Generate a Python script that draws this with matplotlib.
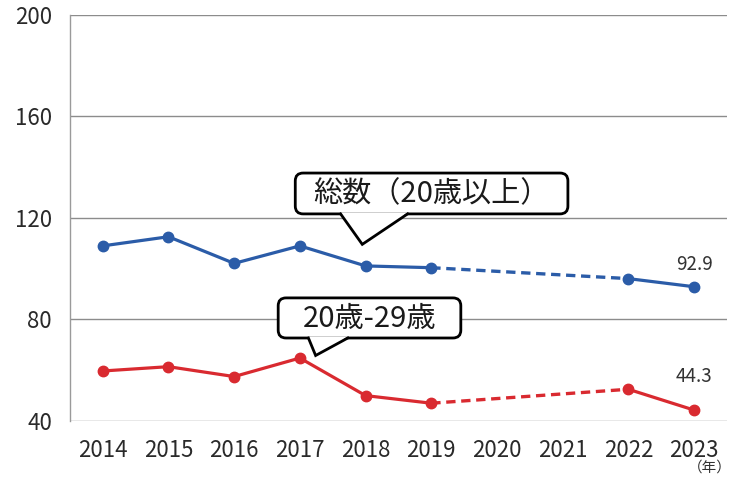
import numpy as np
import matplotlib
matplotlib.use("Agg")
import matplotlib.pyplot as plt
from matplotlib.patches import FancyBboxPatch, Polygon

plt.rcParams['font.family'] = ['Noto Sans CJK JP', 'DejaVu Sans']

years = ['2014', '2015', '2016', '2017', '2018', '2019', '2020', '2021', '2022', '2023']
total = [109.0, 112.6, 102.1, 109.0, 101.1, 100.4, np.nan, np.nan, 96.1, 92.9]
age20s = [59.7, 61.4, 57.5, 64.8, 50.0, 47.0, np.nan, np.nan, 52.5, 44.3]

blue = '#2b5ca8'
red = '#d92a30'

fig = plt.figure(figsize=(7.44, 4.82), dpi=100)
ax = fig.add_axes([0.094, 0.1266, 0.883, 0.8424])

x = np.arange(len(years))


def draw_series(vals, color):
    vals = np.array(vals)
    ok = ~np.isnan(vals)
    # solid runs of consecutive data
    ax.plot(x[:6], vals[:6], color=color, lw=2.3, marker='o', ms=7.5,
            mec=color, mfc=color, zorder=3)
    ax.plot(x[8:], vals[8:], color=color, lw=2.3, marker='o', ms=7.5,
            mec=color, mfc=color, zorder=3)
    # gap years bridged with a dashed line
    xi = x[ok]
    vi = vals[ok]
    ax.plot(xi[5:7], vi[5:7], color=color, lw=2.4, ls=(0, (2.8, 1.7)), zorder=2)


draw_series(total, blue)
draw_series(age20s, red)

ax.set_xlim(-0.5, 9.5)
ax.set_ylim(40, 200)
ax.set_yticks([40, 80, 120, 160, 200])
ax.set_xticks(x)
ax.set_xticklabels(years)
ax.grid(axis='y', color='#8c8c8c', lw=1.0)
ax.set_axisbelow(True)
for s in ['top', 'right', 'bottom']:
    ax.spines[s].set_visible(False)
ax.spines['left'].set_color('#9a9a9a')
ax.spines['left'].set_linewidth(1.0)
ax.tick_params(length=0, labelsize=16, colors='#2a2a2a')
ax.tick_params(axis='y', pad=13)
ax.tick_params(axis='x', pad=13)

# value labels for the latest year
ax.text(9, total[-1] + 8.8, f'{total[-1]:.1f}', ha='center', va='center',
        fontsize=13.5, color='#333333')
ax.text(9, age20s[-1] + 13.3, f'{age20s[-1]:.1f}', ha='center', va='center',
        fontsize=13.5, color='#333333')

fig.text(0.983, 0.03, '（年）', ha='right', va='center', fontsize=10.5,
         color='#333333')

# data units per pixel, x over y, so the box corners come out round
aspect = (160 / (0.8424 * 482)) / (10 / (0.883 * 744))


def callout(x0, x1, y0, y1, base, tip, label, fs):
    box = FancyBboxPatch((x0, y0), x1 - x0, y1 - y0,
                         boxstyle='round,pad=0,rounding_size=0.12',
                         mutation_aspect=aspect,
                         fc='white', ec='black', lw=2.0, zorder=5)
    ax.add_patch(box)
    pts = [(base[0], y0 + 0.6), tip, (base[1], y0 + 0.6)]
    ax.add_patch(Polygon(pts, closed=False, fc='white', ec='none', zorder=6))
    ax.plot([base[0], tip[0], base[1]], [y0, tip[1], y0], color='black',
            lw=2.0, zorder=7, solid_joinstyle='miter')
    ax.text((x0 + x1) / 2, (y0 + y1) / 2 - 0.3, label, ha='center', va='center',
            fontsize=fs, color='#1a1a1a', zorder=8)


callout(2.93, 7.08, 121.6, 137.7, (3.62, 4.64), (3.95, 109.6), '総数（20歳以上）', 21)
callout(2.67, 5.45, 72.7, 88.5, (3.13, 3.73), (3.24, 65.8), '20歳-29歳', 21)

fig.savefig('out.png', dpi=100)
